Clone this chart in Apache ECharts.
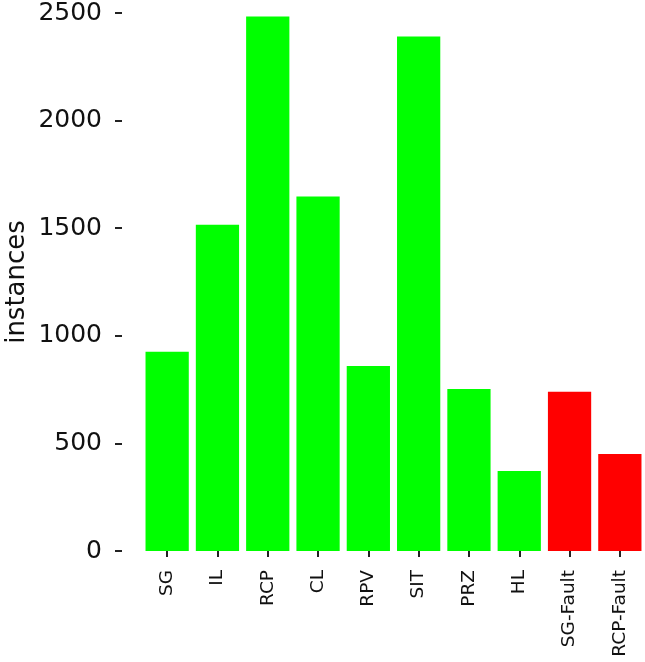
<!DOCTYPE html>
<html>
<head>
<meta charset="utf-8">
<script src="https://cdn.jsdelivr.net/npm/echarts@6/dist/echarts.min.js"></script>
<style>
  html, body { margin: 0; padding: 0; background: #fff; }
  #chart { width: 645px; height: 662px; }
</style>
</head>
<body>
<div id="chart"></div>
<script>
// categories and instance counts
const categories = ['SG', 'IL', 'RCP', 'CL', 'RPV', 'SIT', 'PRZ', 'HL', 'SG-Fault', 'RCP-Fault']
const instances = [926, 1516, 2484, 1647, 860, 2391, 753, 372, 740, 451]
// fault classes drawn red, the rest green
const isFault = [false, false, false, false, false, false, false, false, true, true]

const chart = echarts.init(document.getElementById('chart'))

chart.setOption({
    animation: false,
    textStyle: { fontFamily: 'DejaVu Sans' },
    grid: {
        left: 142,
        right: 0,
        top: 13,
        bottom: 111,
        containLabel: false,
        outerBoundsMode: 'none',
    },
    xAxis: {
        type: 'category',
        data: categories,
        axisLine: { show: false },
        axisTick: {
            show: true,
            alignWithLabel: true,
            length: 6,
            lineStyle: { color: '#222', width: 2 },
        },
        axisLabel: {
            rotate: 90,
            margin: 19,
            fontSize: 18.5,
            color: '#111',
            fontFamily: 'DejaVu Sans',
            interval: 0,
        },
        splitLine: { show: false },
    },
    yAxis: {
        type: 'value',
        min: 0,
        max: 2500,
        interval: 500,
        offset: 20,
        name: 'instances',
        nameLocation: 'middle',
        nameGap: 92,
        nameMoveOverlap: false,
        nameTextStyle: { fontSize: 26, color: '#111', fontFamily: 'DejaVu Sans' },
        axisLine: { show: false },
        axisTick: {
            show: true,
            length: 7,
            lineStyle: { color: '#222', width: 2 },
        },
        axisLabel: {
            margin: 20,
            fontSize: 25,
            color: '#111',
            fontFamily: 'DejaVu Sans',
            formatter: (v) => String(v),
        },
        splitLine: { show: false },
    },
    series: [
        {
            type: 'bar',
            barCategoryGap: '14%',
            data: instances.map((v, i) => ({
                value: v,
                itemStyle: { color: isFault[i] ? '#ff0000' : '#00ff00' },
            })),
        },
    ],
})
</script>
</body>
</html>
